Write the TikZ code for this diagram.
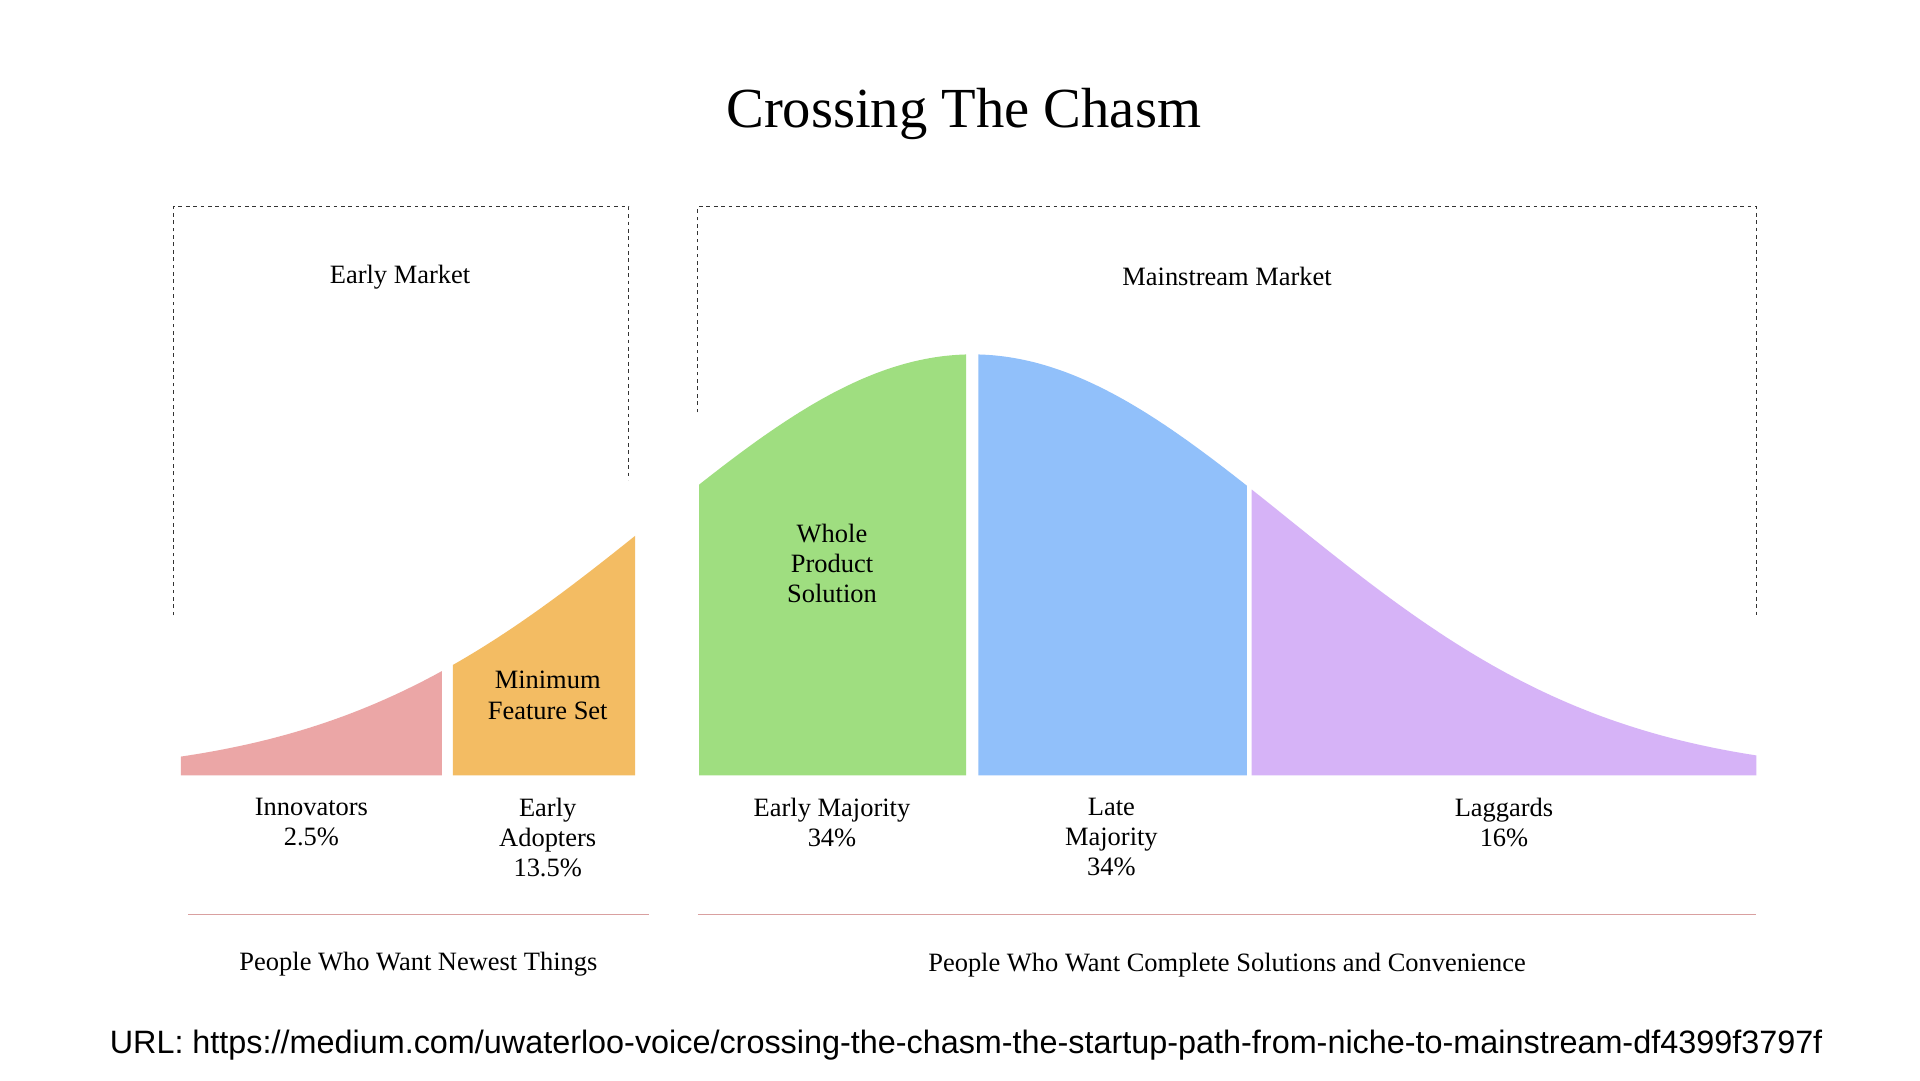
\documentclass[tikz,border=0pt]{standalone}
\usepackage{fontspec}
\setmainfont{Liberation Serif}
\newfontfamily\urlfont{Liberation Sans}
\definecolor{cpink}{HTML}{EBA6A6}
\definecolor{corange}{HTML}{F3BC63}
\definecolor{cgreen}{HTML}{9FDE80}
\definecolor{cblue}{HTML}{91C0FA}
\definecolor{cpurple}{HTML}{D6B3F7}
\definecolor{cline}{HTML}{D9A0A0}
\tikzset{lab/.style={align=center,font=\fontsize{21.5}{24.5}\selectfont,inner sep=0pt},
 dbox/.style={dashed,line width=0.8pt,draw=black!80},
 rl/.style={draw=cline,line width=1pt}}
\newcommand{\seg}[3]{\fill[#3] (#1,630) -- plot[domain=#1:#2,samples=60] (\x,{630-342*exp(-0.5*((\x-790)/258)^2)}) -- (#2,630) -- cycle;}
\begin{document}
\begin{tikzpicture}[x=1pt,y=-1pt]
\useasboundingbox[fill=white] (0,0) rectangle (1560,878);
\node (title) at (783,93) {\fontsize{46}{54}\selectfont Crossing The Chasm};
\draw[dbox] (141,500) -- (141,168) -- (511,168) -- (511,390);
\draw[dbox] (567,335) -- (567,168) -- (1427,168) -- (1427,500);
\node[lab] (em) at (325,225) {Early Market};
\node[lab] (mm) at (997,225) {Mainstream Market};
\seg{147}{359}{cpink}
\seg{368}{516}{corange}
\seg{568}{785}{cgreen}
\seg{795}{1013}{cblue}
\seg{1017}{1427}{cpurple}
\node[lab] (mfs) at (445,565) {Minimum\\Feature Set};
\node[lab] (wps) at (676,458) {Whole\\Product\\Solution};
\node[lab,anchor=north] (inn) at (253,648) {Innovators\\2.5\%};
\node[lab,anchor=north] (ea) at (445,648) {Early\\Adopters\\13.5\%};
\node[lab,anchor=north] (emj) at (676,648) {Early Majority\\34\%};
\node[lab,anchor=north] (lm) at (903,648) {Late\\Majority\\34\%};
\node[lab,anchor=north] (lag) at (1222,648) {Laggards\\16\%};
\coordinate (a1) at (153,743); \coordinate (a2) at (527,743);
\coordinate (b1) at (567,743); \coordinate (b2) at (1427,743);
\draw[rl] (a1) -- (a2);
\draw[rl] (b1) -- (b2);
\node[lab] (p1) at (340,783) {People Who Want Newest Things};
\node[lab] (p2) at (997,784) {People Who Want Complete Solutions and Convenience};
\node[anchor=west,inner sep=0pt] (url) at (89,849) {\urlfont\fontsize{26.3}{30}\selectfont URL: https://medium.com/uwaterloo-voice/crossing-the-chasm-the-startup-path-from-niche-to-mainstream-df4399f3797f};
\end{tikzpicture}
\end{document}
